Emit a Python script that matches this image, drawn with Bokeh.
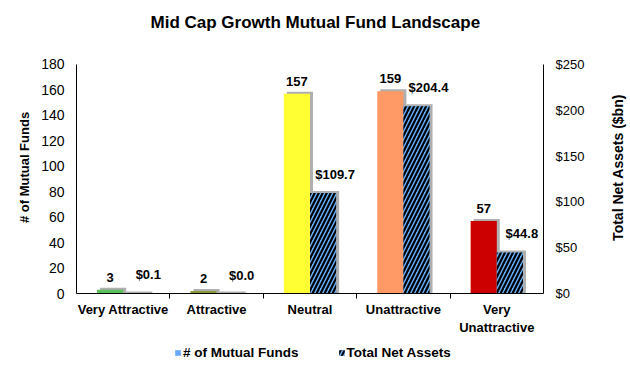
from bokeh.plotting import figure
from bokeh.models import (ColumnDataSource, Range1d, LinearAxis, FixedTicker, Legend, LegendItem,
                          NumeralTickFormatter)
from bokeh.layouts import gridplot
from bokeh.transform import dodge
from bokeh.core.properties import value
from bokeh.embed import file_html
from bokeh.resources import INLINE

categories = ["Very Attractive", "Attractive", "Neutral", "Unattractive", "Very\nUnattractive"]
fund_counts = [3, 2, 157, 159, 57]
net_assets = [0.1, 0.0, 109.7, 204.4, 44.8]
fund_colors = ["#5CC05C", "#8A9A3A", "#FFFF33", "#FF9966", "#CC0000"]
count_labels = [str(v) for v in fund_counts]
asset_labels = ["$%.1f" % v for v in net_assets]
left_ticks = [0, 20, 40, 60, 80, 100, 120, 140, 160, 180]
right_ticks = [0, 50, 100, 150, 200, 250]
LEFT_MAX, RIGHT_MAX = 180, 250

FONT = "Liberation Sans"
W_MAIN, W_SIDE, H = 590, 40, 345
FRAME_TOP, FRAME_BOTTOM = 40, 293
AXIS_PX = 230.0  # pixel height of the 0..max axis span
frame_px = FRAME_BOTTOM - FRAME_TOP
p = figure(width=W_MAIN, height=H, output_backend="svg", toolbar_location=None,
           x_range=Range1d(0, 5), y_range=Range1d(0, LEFT_MAX * frame_px / AXIS_PX),
           min_border_left=76, min_border_right=W_MAIN - 543, min_border_top=FRAME_TOP,
           min_border_bottom=H - FRAME_BOTTOM)
p.extra_y_ranges = {"tna": Range1d(0, RIGHT_MAX * frame_px / AXIS_PX)}
p.outline_line_color = None
p.grid.visible = False
p.background_fill_color = "white"

p.title.text = "Mid Cap Growth Mutual Fund Landscape"
p.title.align = "left"
p.title.offset = 74
p.title.text_font = FONT
p.title.text_font_size = "17px"
p.title.text_font_style = "bold"
p.title.text_color = "black"
p.title.standoff = 20

xs = [i + 0.5 for i in range(len(categories))]
px_per_funds = LEFT_MAX / AXIS_PX
px_per_tna = RIGHT_MAX / AXIS_PX
src = ColumnDataSource(dict(
    x=xs, funds=fund_counts, tna=net_assets, color=fund_colors,
    funds_sh=[v + 2 * px_per_funds for v in fund_counts],
    tna_sh=[v + 2 * px_per_tna for v in net_assets],
    flab=count_labels, tlab=asset_labels,
))

bw = 0.28
sh = 3 / 93.4
HATCH = dict(fill_color="#66B2FF", hatch_pattern="/", hatch_color="black",
             hatch_weight=2.2, hatch_scale=8)
# shadows
p.vbar(x=dodge("x", -bw / 2 + sh, range=p.x_range), top="funds_sh", width=bw, source=src,
       fill_color="#A6A6A6", line_color=None, fill_alpha=0.9)
p.vbar(x=dodge("x", bw / 2 + sh, range=p.x_range), top="tna_sh", width=bw, source=src,
       fill_color="#A6A6A6", line_color=None, fill_alpha=0.9, y_range_name="tna")
# bars
p.vbar(x=dodge("x", -bw / 2, range=p.x_range), top="funds", width=bw, source=src,
       fill_color="color", line_color=None)
p.vbar(x=dodge("x", bw / 2, range=p.x_range), top="tna", width=bw, source=src,
       line_color=None, y_range_name="tna", **HATCH)

# labels
p.text(x=dodge("x", -bw / 2, range=p.x_range), y="funds", text="flab", source=src,
       text_align="center", text_baseline="bottom", y_offset=-8,
       text_font=value(FONT), text_font_size="13px", text_font_style="bold", text_color="black")
p.text(x=dodge("x", bw / 2, range=p.x_range), y="tna", text="tlab", source=src,
       text_align="center", text_baseline="bottom", y_offset=-11, x_offset=12,
       text_font=value(FONT), text_font_size="13px", text_font_style="bold", text_color="black",
       y_range_name="tna")

# x axis
xa = p.xaxis[0]
xa.ticker = FixedTicker(ticks=xs, minor_ticks=[1, 2, 3, 4])
xa.major_label_overrides = {x: c for x, c in zip(xs, categories)}
xa.major_tick_out = 0
xa.major_tick_in = 0
xa.minor_tick_out = 5
xa.minor_tick_in = 0
xa.minor_tick_line_color = "black"
xa.axis_line_color = "black"
xa.major_label_text_font = FONT
xa.major_label_text_font_size = "13px"
xa.major_label_text_font_style = "bold"
xa.major_label_text_color = "black"
xa.major_label_standoff = 3

# left axis
ya = p.yaxis[0]
ya.ticker = FixedTicker(ticks=left_ticks)
ya.bounds = (0, LEFT_MAX)
ya.major_tick_out = 0
ya.major_tick_in = 0
ya.minor_tick_line_color = None
ya.axis_line_color = "black"
ya.major_label_text_font = FONT
ya.major_label_text_font_size = "14px"
ya.major_label_text_color = "black"
ya.major_label_standoff = 12
ya.axis_label = "# of Mutual Funds"
ya.axis_label_text_font = FONT
ya.axis_label_text_font_size = "13px"
ya.axis_label_text_font_style = "bold"
ya.axis_label_text_color = "black"
ya.axis_label_standoff = 6

ra = LinearAxis(y_range_name="tna", ticker=FixedTicker(ticks=right_ticks),
                formatter=NumeralTickFormatter(format="$0"), bounds=(0, RIGHT_MAX))
ra.major_tick_out = 0
ra.major_tick_in = 0
ra.minor_tick_line_color = None
ra.axis_line_color = "black"
ra.major_label_text_font = FONT
ra.major_label_text_font_size = "13px"
ra.major_label_text_color = "black"
ra.major_label_standoff = 12
p.add_layout(ra, "right")

# right axis title: a narrow strip whose left axis carries only the label (reads bottom-to-top)
rf = figure(width=W_SIDE, height=H, output_backend="svg", toolbar_location=None,
            x_range=Range1d(0, 1), y_range=Range1d(0, 1), x_axis_location=None,
            min_border_left=36, min_border_right=0, min_border_top=FRAME_TOP,
            min_border_bottom=H - FRAME_BOTTOM, outline_line_color=None)
rf.grid.visible = False
ry = rf.yaxis[0]
ry.ticker = FixedTicker(ticks=[])
ry.major_label_text_font_size = "0px"
ry.major_tick_out = 0
ry.major_tick_in = 0
ry.minor_tick_line_color = None
ry.major_tick_line_color = None
ry.axis_line_color = None
ry.axis_label = "Total Net Assets ($bn)"
ry.axis_label_text_font = FONT
ry.axis_label_text_font_size = "14px"
ry.axis_label_text_font_style = "bold"
ry.axis_label_text_color = "black"
ry.axis_label_standoff = 1

# legend strip
lf = figure(width=W_MAIN, height=367 - H, output_backend="svg", toolbar_location=None,
            x_range=Range1d(0, 1), y_range=Range1d(0, 1), x_axis_location=None,
            y_axis_location=None, min_border=0, min_border_left=0, min_border_right=0,
            min_border_top=0, min_border_bottom=0, outline_line_color=None)
lf.grid.visible = False
lsrc = ColumnDataSource(dict(x=[-100.0], top=[-100.0]))
r1 = lf.vbar(x="x", top="top", bottom=-101, width=0.1, source=lsrc,
             fill_color="#66AAFF", line_color=None)
r2 = lf.vbar(x="x", top="top", bottom=-101, width=0.1, source=lsrc, line_color=None, **HATCH)
legend = Legend(items=[LegendItem(label="# of Mutual Funds", renderers=[r1]),
                       LegendItem(label="Total Net Assets", renderers=[r2])],
                orientation="horizontal", location=(98, 7),
                label_text_font=FONT, label_text_font_size="13.5px", label_text_font_style="bold",
                label_text_color="black",
                glyph_width=7, glyph_height=7, label_standoff=2, spacing=39,
                border_line_color=None, background_fill_alpha=0, padding=0, margin=0,
                label_height=14)
lf.add_layout(legend, "center")

grid = gridplot([[p, rf], [lf, None]], toolbar_location=None)
open("out.html", "w").write(file_html(grid, INLINE))
